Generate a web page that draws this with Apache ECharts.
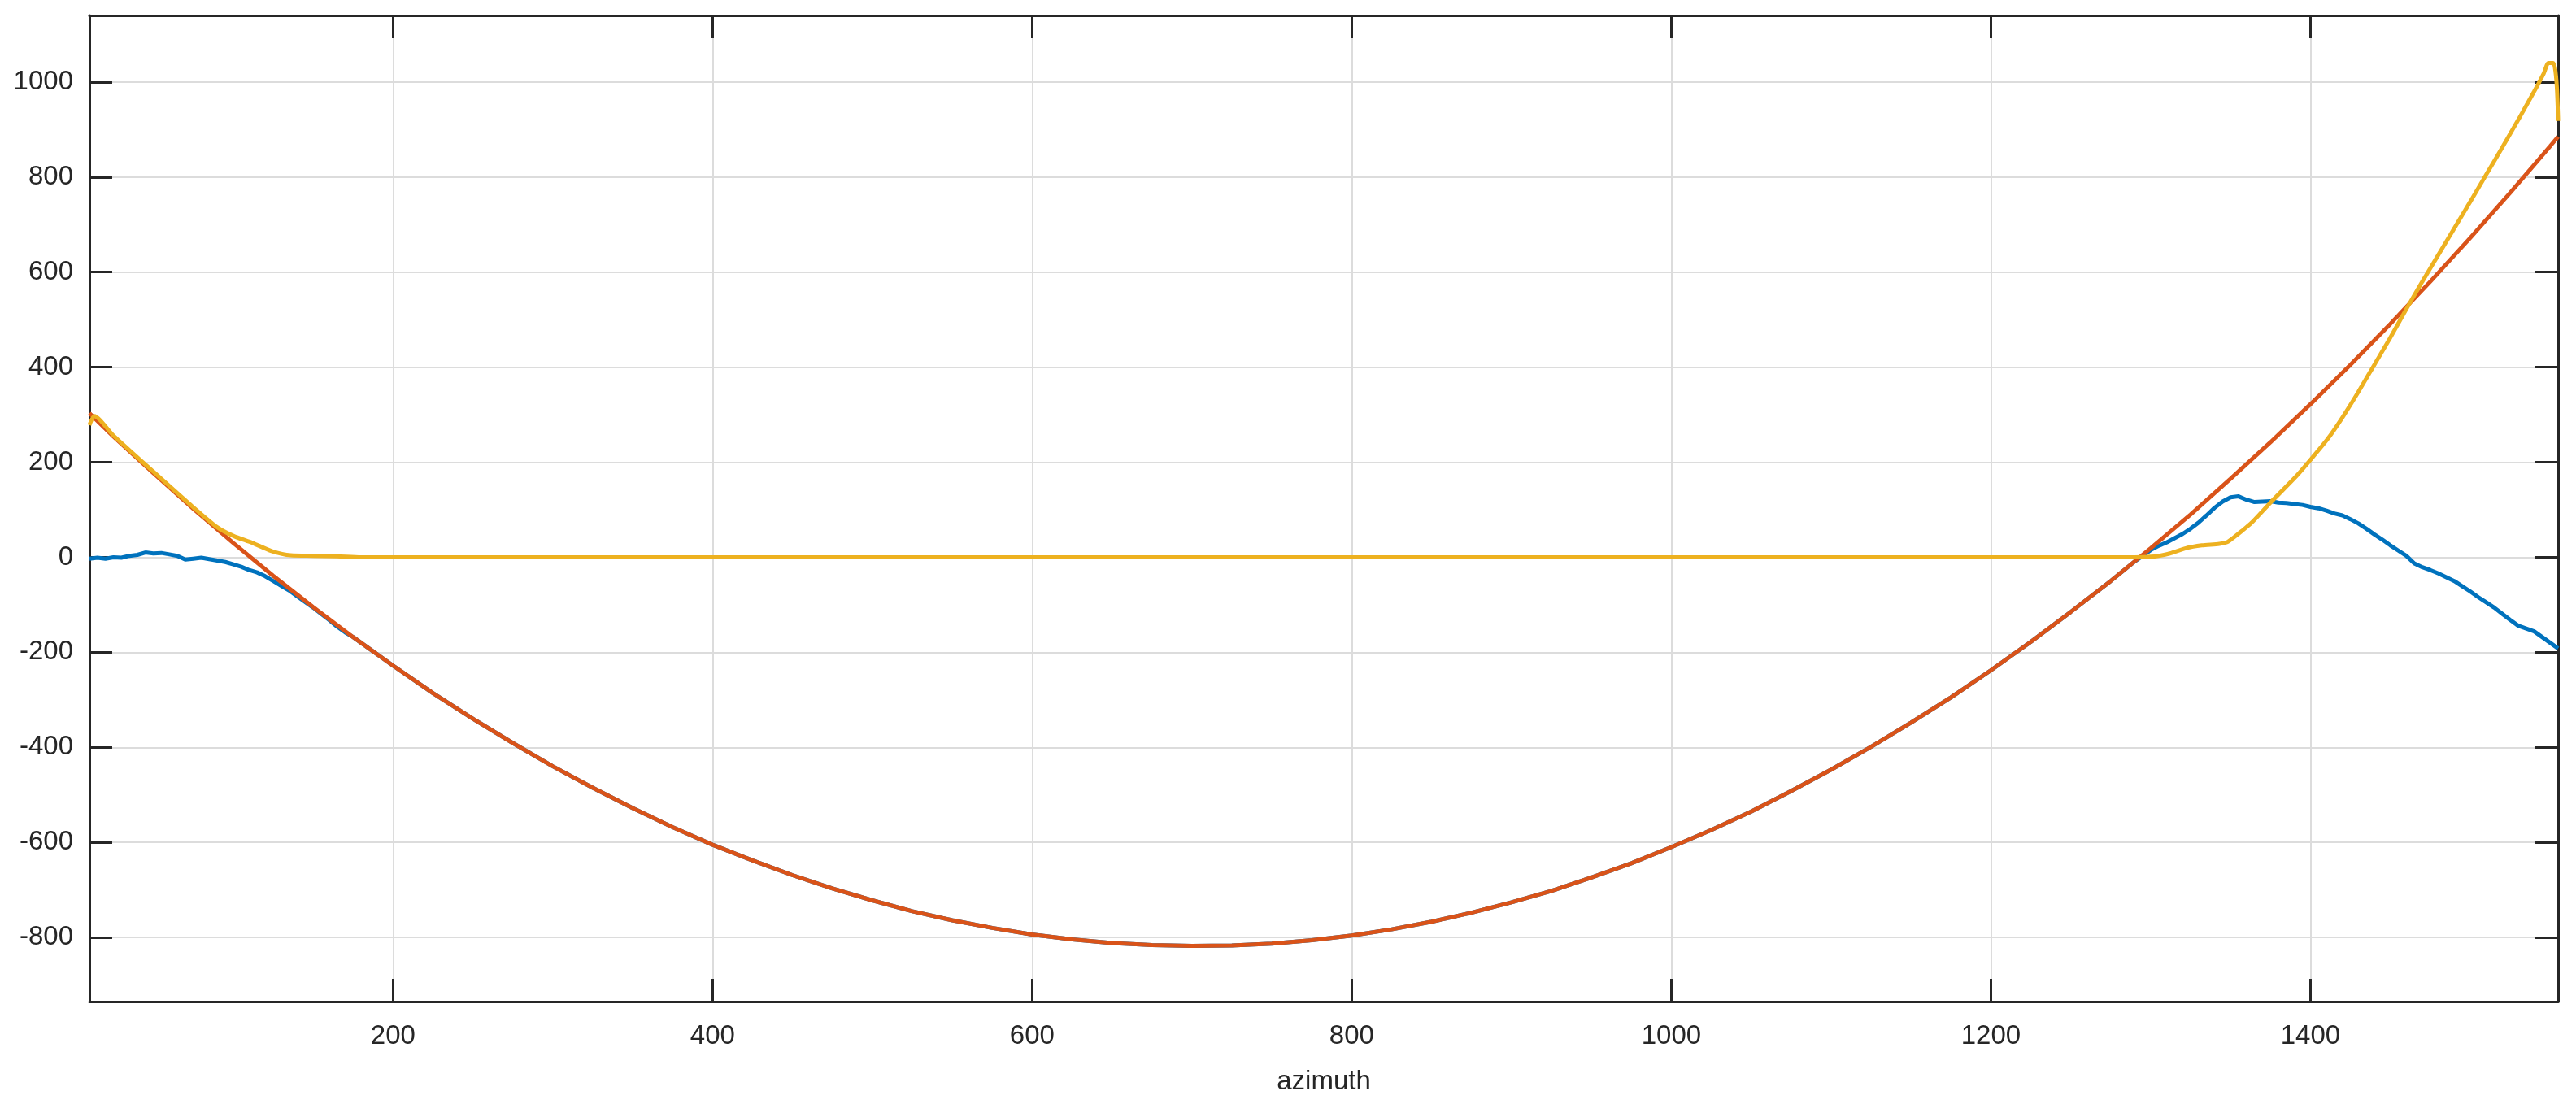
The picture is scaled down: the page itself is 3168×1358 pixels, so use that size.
<!DOCTYPE html>
<html>
<head>
<meta charset="utf-8">
<script src="https://cdn.jsdelivr.net/npm/echarts@6/dist/echarts.min.js"></script>
<style>
html,body{margin:0;padding:0;background:#fff;}
#chart{width:3168px;height:1358px;}
</style>
</head>
<body>
<div id="chart"></div>
<script>
// ---- data ----
const xLimits = [10, 1555];
const yLimits = [-935, 1140];
const xAxisName = 'azimuth';

const orangeX = [10,25,50,75,100,125,150,175,200,225,250,275,300,325,350,375,400,425,450,475,500,525,550,575,600,625,650,675,700,725,750,775,800,825,850,875,900,925,950,975,1000,1025,1050,1075,1100,1125,1150,1175,1200,1225,1250,1275,1300,1325,1350,1375,1400,1425,1450,1475,1500,1525,1550,1555];
const orangeY = [303,254,177,102,30,-39,-105,-168,-228,-286,-340,-391,-440,-485,-528,-568,-605,-638,-669,-697,-722,-745,-764,-780,-794,-804,-812,-816,-818,-817,-813,-806,-796,-783,-767,-748,-726,-702,-674,-644,-610,-574,-535,-492,-447,-399,-348,-295,-238,-178,-115,-50,19,90,165,242,322,405,491,580,672,767,865,885];

const blueX = [10,15,20,25,30,35,40,45,50,55,60,65,70,75,80,85,90,95,100,105,110,115,120,125,130,135,140,145,150,155,160,165,170,
  175,200,225,250,275,300,325,350,375,400,425,450,475,500,525,550,575,600,625,650,675,700,725,750,775,800,825,850,875,900,925,950,975,1000,1025,1050,1075,1100,1125,1150,1175,1200,1225,1250,1275,1290,1295,
  1300,1305,1310,1315,1320,1325,1330,1335,1340,1345,1350,1355,1360,1365,1370,1375,1380,1385,1390,1395,1400,1405,1410,1415,1420,1425,1430,1435,1440,1445,1450,1455,1460,1465,1470,1475,1480,1485,1490,1495,1500,1505,1510,1515,1520,1525,1530,1535,1540,1545,1550,1555];
const blueY = [-3,-1,-3,0,-1,3,5,10,8,9,6,3,-5,-3,-1,-4,-7,-10,-15,-20,-27,-32,-40,-50,-60,-70,-82,-94,-106,-119,-132,-146,-158,
  -168,-228,-286,-340,-391,-440,-485,-528,-568,-605,-638,-669,-697,-722,-745,-764,-780,-794,-804,-812,-816,-818,-817,-813,-806,-796,-783,-767,-748,-726,-702,-674,-644,-610,-574,-535,-492,-447,-399,-348,-295,-238,-178,-115,-50,-9,3,
  15,24,31,40,49,60,73,88,104,117,126,128,121,116,117,118,115,114,112,110,106,103,98,92,88,80,71,60,48,37,25,14,3,-13,-21,-27,-34,-42,-50,-61,-72,-84,-95,-106,-119,-132,-144,-150,-156,-168,-180,-192];

const yellowX = [10,13,25,50,75,90,100,112,124,136,150,165,180,300,500,700,900,1100,1290,1300,1305,1312,1322,1332,1343,1348,1351,1357,1363,1375,1391,1400,1411,1420,1430,1440,1450,1460,1470,1480,1490,1500,1510,1520,1530,1540,1546,1549,1552,1554,1555];
const yellowY = [278,297,256,180,105,63,45,30,13,4,3,2,0,0,0,0,0,0,0,1,3,8,19,25,28,32,39,55,72,115,170,205,250,294,348,405,462,522,580,636,692,748,805,862,920,980,1018,1040,1040,1000,918];

// ---- chart ----
const pairs = (xs, ys) => xs.map((x, i) => [x, ys[i]]);
const AX = '#262626';
const GRID = '#dcdcdc';
const FONT = 'Liberation Sans, Arial, Helvetica, sans-serif';
const fmt = v => String(v);

function xAx(pos, main) {
  return {
    type: 'value', gridIndex: 0, position: pos, min: xLimits[0], max: xLimits[1], splitNumber: 8,
    axisLine: { show: true, onZero: false, lineStyle: { color: AX, width: 3 } },
    axisTick: { show: true, inside: true, length: 28, lineStyle: { color: AX, width: 3 } },
    axisLabel: { show: main, formatter: fmt, showMinLabel: false, showMaxLabel: false, color: AX, fontSize: 33, fontFamily: FONT, margin: 26 },
    splitLine: { show: main, lineStyle: { color: GRID, width: 2 } },
    name: main ? xAxisName : '', nameLocation: 'middle', nameGap: 82,
    nameTextStyle: { color: AX, fontSize: 33, fontFamily: FONT }
  };
}
function yAx(pos, main) {
  return {
    type: 'value', gridIndex: 0, position: pos, min: yLimits[0], max: yLimits[1], splitNumber: 10,
    axisLine: { show: true, onZero: false, lineStyle: { color: AX, width: 3 } },
    axisTick: { show: true, inside: true, length: 28, lineStyle: { color: AX, width: 3 } },
    axisLabel: { show: main, formatter: fmt, showMinLabel: false, showMaxLabel: false, color: AX, fontSize: 33, fontFamily: FONT, margin: 20 },
    splitLine: { show: main, lineStyle: { color: GRID, width: 2 } }
  };
}
function line(xs, ys, color, smooth) {
  return {
    type: 'line', xAxisIndex: 0, yAxisIndex: 0, data: pairs(xs, ys),
    showSymbol: false, symbol: 'none', clip: true, smooth: smooth,
    lineStyle: { color: color, width: 5 }, itemStyle: { color: color }
  };
}

const chart = echarts.init(document.getElementById('chart'), null, { renderer: 'canvas' });
chart.setOption({
  animation: false,
  backgroundColor: '#ffffff',
  grid: { left: 110, right: 22, top: 19, bottom: 126, containLabel: false },
  xAxis: [xAx('bottom', true), xAx('top', false)],
  yAxis: [yAx('left', true), yAx('right', false)],
  series: [
    line(blueX, blueY, '#0072BD', false),
    line(orangeX, orangeY, '#D95319', false),
    line(yellowX, yellowY, '#EDB120', 0.25)
  ]
});
</script>
</body>
</html>
